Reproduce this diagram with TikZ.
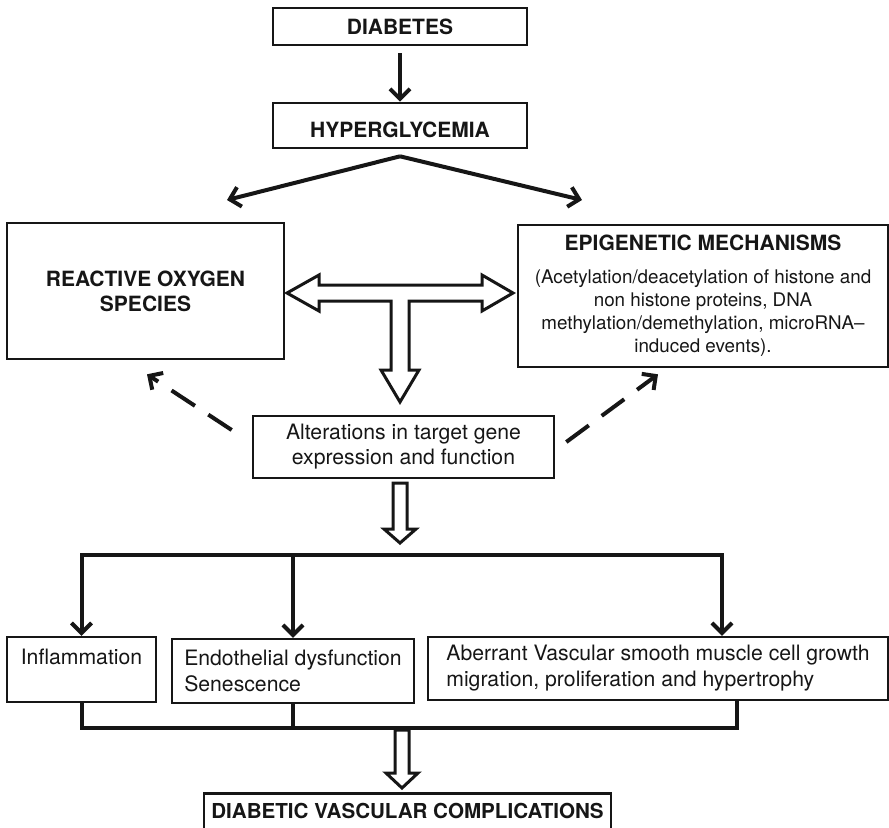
\documentclass[tikz,border=0pt]{standalone}
\usepackage{fontspec}
\setmainfont{TeX Gyre Heros}
\usetikzlibrary{arrows.meta,positioning,calc}
\definecolor{Ink}{HTML}{161616}
\tikzset{
  >={Straight Barb[length=5pt,width=10pt]},
  box/.style={draw=Ink,line width=1.3pt,inner sep=0pt,text=Ink},
  head/.style={box,font=\fontsize{10.5}{12.5}\selectfont\bfseries,align=center},
  cell/.style={box,line width=1.2pt,font=\fontsize{10.6}{13}\selectfont,align=left},
  flow/.style={->,line width=2pt,draw=Ink},
  hint/.style={flow,dash pattern=on 14pt off 8pt},
  bus/.style={line width=2pt,draw=Ink},
  hollow/.style={draw=Ink,line width=1.5pt,fill=white,line join=miter}
}

\begin{document}
\begin{tikzpicture}[x=0.5pt,y=-0.5pt]
  \useasboundingbox (0,0) rectangle (889,827);
  \clip (0,0) rectangle (889,827);
  % top of the cascade
  \node[head,minimum width=127pt,minimum height=18.5pt] (dia) at (400,26.5) {DIABETES};
  \node[head,minimum width=127pt,minimum height=22.5pt,text height=12pt,text depth=0pt] (hyp) at (400,125.5) {HYPERGLYCEMIA};
  \node[head,minimum width=138.5pt,minimum height=68pt] (ros) at (145.5,291) {REACTIVE OXYGEN\\SPECIES};
  \node[box,minimum width=185pt,minimum height=71pt,align=center,font=\fontsize{9.4}{11.5}\selectfont] (epi) at (703,296)
    {{\fontsize{10.5}{11.5}\selectfont\bfseries EPIGENETIC MECHANISMS}\\[5pt]
     (Acetylation/deacetylation of histone and\\non histone proteins, DNA\\methylation/demethylation, microRNA--\\induced events).};
  \node[box,minimum width=150.5pt,minimum height=31pt,align=center,font=\fontsize{10.6}{12.5}\selectfont] (alt) at (403.5,447)
    {Alterations in target gene\\expression and function};
  % outcomes
  \node[cell,minimum width=74.5pt,minimum height=32.5pt] (infl) at (81.5,669.5) {Inflammation\\\mbox{}};
  \node[cell,minimum width=121pt,minimum height=32pt] (endo) at (293,671) {Endothelial dysfunction\\Senescence};
  \node[cell,minimum width=230pt,minimum height=31.5pt] (aberr) at (658,668.5)
    {Aberrant Vascular smooth muscle cell growth\\migration, proliferation and hypertrophy};
  \node[head,anchor=north,minimum width=203.5pt,text height=7.5pt,text depth=20pt,inner ysep=5pt,
    font=\fontsize{10.3}{12}\selectfont\bfseries] (comp) at (407.5,792) {DIABETIC VASCULAR COMPLICATIONS};

  \coordinate (rosin) at (227,200);
  \coordinate (epiin) at (582,200);
  \coordinate (split) at (400,555);

  \draw[flow,shorten <=3.5pt] (dia) -- (hyp);
  \draw[flow] ([yshift=-3.5pt]hyp.south) -- (rosin);
  \draw[flow] ([yshift=-3.5pt]hyp.south) -- (epiin);

  % two-headed hollow T arrow
  \draw[hollow] (287,293) -- (319,275) -- (319,285) -- (482,285) -- (482,275) -- (513,293)
    -- (482,311) -- (482,301) -- (409,301) -- (409,370) -- (419,370) -- (400,402)
    -- (381,370) -- (391,370) -- (391,301) -- (319,301) -- (319,311) -- cycle;

  \draw[hint] ($(alt.west)+(-20,-17)$) -- ($(ros.south)+(1.5,14)$);
  \draw[hint] ($(alt.east)+(11,-5)$) -- ($(epi.south)+(-45,6)$);

  \draw[hollow] (393,483) -- (407,483) -- (407,529) -- (416,529) -- (400,543) -- (384,529) -- (393,529) -- cycle;

  \draw[flow] (split) -| (infl.north);
  \draw[flow] (split) -| (722,0 |- aberr.north);
  \draw[flow] (endo.north |- split) -- (endo.north);

  \draw[bus] (infl.south) |- (737,728) -- (737,0 |- aberr.south);
  \draw[bus] (endo.south) -- (endo.south |- 0,728);

  \draw[hollow] (395,730) -- (409,730) -- (409,773) -- (418,773) -- (402,788) -- (386,773) -- (395,773) -- cycle;
\end{tikzpicture}
\end{document}
